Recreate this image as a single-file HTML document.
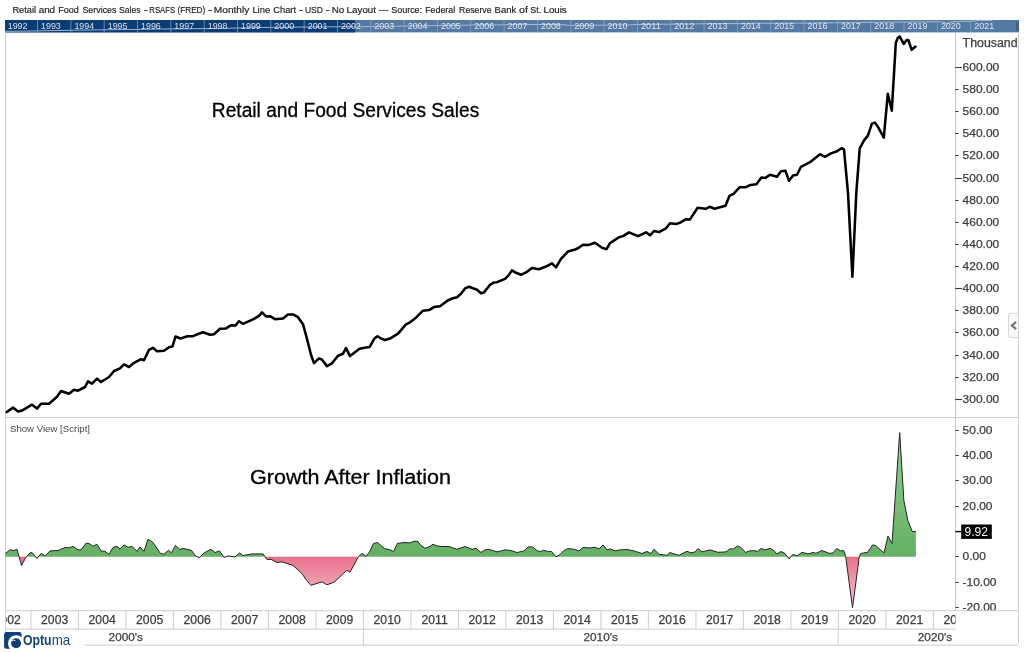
<!DOCTYPE html>
<html lang="en"><head><meta charset="utf-8"><title>Retail and Food Services Sales</title>
<style>html,body{margin:0;padding:0;background:#fff}body{width:1024px;height:652px;overflow:hidden}svg{display:block}text{font-family:"Liberation Sans", "DejaVu Sans", sans-serif}.ax text{stroke:#3c3c3c;stroke-width:0.25px}</style>
</head><body>
<svg width="1024" height="652" viewBox="0 0 1024 652">
<defs>
<linearGradient id="gG" gradientUnits="userSpaceOnUse" x1="0" y1="430" x2="0" y2="556.5"><stop offset="0" stop-color="#94cd94"/><stop offset="1" stop-color="#64b064"/></linearGradient>
<linearGradient id="gR" gradientUnits="userSpaceOnUse" x1="0" y1="556.5" x2="0" y2="608"><stop offset="0" stop-color="#e86f89"/><stop offset="0.62" stop-color="#f2a7b7"/><stop offset="1" stop-color="#f7bcc8"/></linearGradient>
<clipPath id="cUp"><rect x="0" y="418" width="1024" height="138.5"/></clipPath>
<clipPath id="cDn"><rect x="0" y="556.5" width="1024" height="54.2"/></clipPath>
<clipPath id="cAxis"><rect x="6.0" y="600" width="949.5" height="50"/></clipPath>
<clipPath id="cRA"><rect x="950" y="33" width="70" height="577.2"/></clipPath>
<clipPath id="cLogo"><rect x="4.3" y="632.1" width="17.2" height="16.6" rx="2.2"/></clipPath>
</defs>
<rect width="1024" height="652" fill="#fff"/>
<g font-size="9.4" fill="#222" stroke="#222" stroke-width="0.18">
<text x="12.4" y="12.9" textLength="23.6" lengthAdjust="spacingAndGlyphs">Retail</text>
<text x="38.7" y="12.9" textLength="16.4" lengthAdjust="spacingAndGlyphs">and</text>
<text x="58.2" y="12.9" textLength="20.6" lengthAdjust="spacingAndGlyphs">Food</text>
<text x="82.4" y="12.9" textLength="34.1" lengthAdjust="spacingAndGlyphs">Services</text>
<text x="119.1" y="12.9" textLength="21.5" lengthAdjust="spacingAndGlyphs">Sales</text>
<text x="143.5" y="12.9" textLength="4.4" lengthAdjust="spacingAndGlyphs">-</text>
<text x="149.3" y="12.9" textLength="25.8" lengthAdjust="spacingAndGlyphs">RSAFS</text>
<text x="177.6" y="12.9" textLength="27.6" lengthAdjust="spacingAndGlyphs">(FRED)</text>
<text x="208.0" y="12.9" textLength="4.3" lengthAdjust="spacingAndGlyphs">-</text>
<text x="213.8" y="12.9" textLength="35.5" lengthAdjust="spacingAndGlyphs">Monthly</text>
<text x="252.4" y="12.9" textLength="17.7" lengthAdjust="spacingAndGlyphs">Line</text>
<text x="273.2" y="12.9" textLength="22.9" lengthAdjust="spacingAndGlyphs">Chart</text>
<text x="298.7" y="12.9" textLength="4.2" lengthAdjust="spacingAndGlyphs">-</text>
<text x="304.9" y="12.9" textLength="18.0" lengthAdjust="spacingAndGlyphs">USD</text>
<text x="325.5" y="12.9" textLength="4.3" lengthAdjust="spacingAndGlyphs">-</text>
<text x="331.8" y="12.9" textLength="12.5" lengthAdjust="spacingAndGlyphs">No</text>
<text x="346.6" y="12.9" textLength="29.4" lengthAdjust="spacingAndGlyphs">Layout</text>
<text x="378.7" y="12.9" textLength="9.8" lengthAdjust="spacingAndGlyphs">---</text>
<text x="391.2" y="12.9" textLength="30.9" lengthAdjust="spacingAndGlyphs">Source:</text>
<text x="425.2" y="12.9" textLength="30.0" lengthAdjust="spacingAndGlyphs">Federal</text>
<text x="459.1" y="12.9" textLength="32.4" lengthAdjust="spacingAndGlyphs">Reserve</text>
<text x="494.6" y="12.9" textLength="21.6" lengthAdjust="spacingAndGlyphs">Bank</text>
<text x="519.0" y="12.9" textLength="8.9" lengthAdjust="spacingAndGlyphs">of</text>
<text x="530.2" y="12.9" textLength="11.0" lengthAdjust="spacingAndGlyphs">St.</text>
<text x="543.5" y="12.9" textLength="23.2" lengthAdjust="spacingAndGlyphs">Louis</text>
</g>
<g id="nav">
<rect x="5" y="20" width="1014" height="12.4" fill="#547aa3"/>
<rect x="5" y="20" width="350" height="12.4" fill="#0a3c76"/>
<polyline points="4.2,31.3 20.9,31.2 37.5,30.9 54.2,30.6 70.9,30.3 87.5,30.0 104.2,29.8 120.9,29.6 137.5,29.4 154.2,29.1 170.8,28.9 187.5,28.8 204.2,28.6 220.8,28.4 237.5,28.0 254.2,27.7 270.8,27.3 287.5,27.2 304.2,27.0 320.8,26.9 334.2,26.8 353.9,26.7 361.8,26.7 371.6,26.5 377.9,26.5 389.1,26.3 397.6,26.2 403.9,26.1 410.9,25.9 417.2,25.9 425.6,25.8 433.4,25.6 439.7,25.6 448.1,25.4 453.7,25.2 459.3,25.2 467.7,25.2 472.3,24.9 480.7,24.9 486.7,24.9 496.5,24.9 503.5,24.8 511.2,24.7 516.9,24.6 527.4,24.6 533.0,24.4 538.6,24.5 547.7,24.6 554.7,24.5 561.8,24.7 567.4,25.3 573.0,25.4 578.6,25.6 586.3,25.3 591.9,25.2 601.4,25.2 608.4,25.2 614.0,24.9 619.3,25.0 628.4,24.9 636.8,24.6 646.0,24.4 653.7,24.3 663.5,24.2 669.8,24.2 675.4,24.0 683.9,24.0 688.8,24.1 695.8,23.9 703.5,23.8 708.4,23.7 714.7,23.7 722.4,23.6 732.3,23.6 739.3,23.6 747.7,23.3 754.7,23.3 761.7,23.2 771.6,23.3 777.2,23.2 786.3,23.1 796.8,23.1 805.2,23.1 811.6,23.0 819.3,22.9 827.0,22.8 833.3,22.8 844.3,22.6 850.6,22.6 861.0,22.4 868.0,22.3 875.8,22.3 883.4,22.2 889.4,22.1 897.2,22.1 902.8,22.2 908.4,22.1 917.5,21.9 928.0,21.9 936.5,21.8 939.6,21.7 941.4,21.8 944.2,22.4 947.3,23.8 950.0,22.4 952.4,21.7 955.3,21.6 958.1,21.6 960.9,21.4 963.0,21.4 965.1,21.4 969.3,21.6 972.1,21.0 974.9,21.2 977.7,20.4 979.0,20.3 980.5,20.3 983.3,20.4 986.5,20.3 991.5,20.4" fill="none" stroke="#b9c7db" stroke-width="1" stroke-opacity="0.85"/>
<rect x="355.2" y="21.5" width="3" height="9.5" fill="#3f5f8a" opacity="0.55"/>
<text x="7.7" y="29.3" font-size="9.9" fill="#eef2f8" fill-opacity="0.9" textLength="19.8" lengthAdjust="spacingAndGlyphs">1992</text>
<line x1="37.5" y1="20" x2="37.5" y2="32.4" stroke="#8fa6c6" stroke-width="1" stroke-opacity="0.7"/>
<text x="41.0" y="29.3" font-size="9.9" fill="#eef2f8" fill-opacity="0.9" textLength="19.8" lengthAdjust="spacingAndGlyphs">1993</text>
<line x1="70.9" y1="20" x2="70.9" y2="32.4" stroke="#8fa6c6" stroke-width="1" stroke-opacity="0.7"/>
<text x="74.4" y="29.3" font-size="9.9" fill="#eef2f8" fill-opacity="0.9" textLength="19.8" lengthAdjust="spacingAndGlyphs">1994</text>
<line x1="104.2" y1="20" x2="104.2" y2="32.4" stroke="#8fa6c6" stroke-width="1" stroke-opacity="0.7"/>
<text x="107.7" y="29.3" font-size="9.9" fill="#eef2f8" fill-opacity="0.9" textLength="19.8" lengthAdjust="spacingAndGlyphs">1995</text>
<line x1="137.5" y1="20" x2="137.5" y2="32.4" stroke="#8fa6c6" stroke-width="1" stroke-opacity="0.7"/>
<text x="141.0" y="29.3" font-size="9.9" fill="#eef2f8" fill-opacity="0.9" textLength="19.8" lengthAdjust="spacingAndGlyphs">1996</text>
<line x1="170.8" y1="20" x2="170.8" y2="32.4" stroke="#8fa6c6" stroke-width="1" stroke-opacity="0.7"/>
<text x="174.3" y="29.3" font-size="9.9" fill="#eef2f8" fill-opacity="0.9" textLength="19.8" lengthAdjust="spacingAndGlyphs">1997</text>
<line x1="204.2" y1="20" x2="204.2" y2="32.4" stroke="#8fa6c6" stroke-width="1" stroke-opacity="0.7"/>
<text x="207.7" y="29.3" font-size="9.9" fill="#eef2f8" fill-opacity="0.9" textLength="19.8" lengthAdjust="spacingAndGlyphs">1998</text>
<line x1="237.5" y1="20" x2="237.5" y2="32.4" stroke="#8fa6c6" stroke-width="1" stroke-opacity="0.7"/>
<text x="241.0" y="29.3" font-size="9.9" fill="#eef2f8" fill-opacity="0.9" textLength="19.8" lengthAdjust="spacingAndGlyphs">1999</text>
<line x1="270.8" y1="20" x2="270.8" y2="32.4" stroke="#8fa6c6" stroke-width="1" stroke-opacity="0.7"/>
<text x="274.3" y="29.3" font-size="9.9" fill="#eef2f8" fill-opacity="0.9" textLength="19.8" lengthAdjust="spacingAndGlyphs">2000</text>
<line x1="304.2" y1="20" x2="304.2" y2="32.4" stroke="#8fa6c6" stroke-width="1" stroke-opacity="0.7"/>
<text x="307.7" y="29.3" font-size="9.9" fill="#eef2f8" fill-opacity="0.9" textLength="19.8" lengthAdjust="spacingAndGlyphs">2001</text>
<line x1="337.5" y1="20" x2="337.5" y2="32.4" stroke="#8fa6c6" stroke-width="1" stroke-opacity="0.7"/>
<text x="341.0" y="29.3" font-size="9.9" fill="#eef2f8" fill-opacity="0.9" textLength="19.8" lengthAdjust="spacingAndGlyphs">2002</text>
<line x1="370.8" y1="20" x2="370.8" y2="32.4" stroke="#8fa6c6" stroke-width="1" stroke-opacity="0.7"/>
<text x="374.3" y="29.3" font-size="9.9" fill="#eef2f8" fill-opacity="0.9" textLength="19.8" lengthAdjust="spacingAndGlyphs">2003</text>
<line x1="404.2" y1="20" x2="404.2" y2="32.4" stroke="#8fa6c6" stroke-width="1" stroke-opacity="0.7"/>
<text x="407.7" y="29.3" font-size="9.9" fill="#eef2f8" fill-opacity="0.9" textLength="19.8" lengthAdjust="spacingAndGlyphs">2004</text>
<line x1="437.5" y1="20" x2="437.5" y2="32.4" stroke="#8fa6c6" stroke-width="1" stroke-opacity="0.7"/>
<text x="441.0" y="29.3" font-size="9.9" fill="#eef2f8" fill-opacity="0.9" textLength="19.8" lengthAdjust="spacingAndGlyphs">2005</text>
<line x1="470.8" y1="20" x2="470.8" y2="32.4" stroke="#8fa6c6" stroke-width="1" stroke-opacity="0.7"/>
<text x="474.3" y="29.3" font-size="9.9" fill="#eef2f8" fill-opacity="0.9" textLength="19.8" lengthAdjust="spacingAndGlyphs">2006</text>
<line x1="504.1" y1="20" x2="504.1" y2="32.4" stroke="#8fa6c6" stroke-width="1" stroke-opacity="0.7"/>
<text x="507.6" y="29.3" font-size="9.9" fill="#eef2f8" fill-opacity="0.9" textLength="19.8" lengthAdjust="spacingAndGlyphs">2007</text>
<line x1="537.5" y1="20" x2="537.5" y2="32.4" stroke="#8fa6c6" stroke-width="1" stroke-opacity="0.7"/>
<text x="541.0" y="29.3" font-size="9.9" fill="#eef2f8" fill-opacity="0.9" textLength="19.8" lengthAdjust="spacingAndGlyphs">2008</text>
<line x1="570.8" y1="20" x2="570.8" y2="32.4" stroke="#8fa6c6" stroke-width="1" stroke-opacity="0.7"/>
<text x="574.3" y="29.3" font-size="9.9" fill="#eef2f8" fill-opacity="0.9" textLength="19.8" lengthAdjust="spacingAndGlyphs">2009</text>
<line x1="604.1" y1="20" x2="604.1" y2="32.4" stroke="#8fa6c6" stroke-width="1" stroke-opacity="0.7"/>
<text x="607.6" y="29.3" font-size="9.9" fill="#eef2f8" fill-opacity="0.9" textLength="19.8" lengthAdjust="spacingAndGlyphs">2010</text>
<line x1="637.5" y1="20" x2="637.5" y2="32.4" stroke="#8fa6c6" stroke-width="1" stroke-opacity="0.7"/>
<text x="641.0" y="29.3" font-size="9.9" fill="#eef2f8" fill-opacity="0.9" textLength="19.8" lengthAdjust="spacingAndGlyphs">2011</text>
<line x1="670.8" y1="20" x2="670.8" y2="32.4" stroke="#8fa6c6" stroke-width="1" stroke-opacity="0.7"/>
<text x="674.3" y="29.3" font-size="9.9" fill="#eef2f8" fill-opacity="0.9" textLength="19.8" lengthAdjust="spacingAndGlyphs">2012</text>
<line x1="704.1" y1="20" x2="704.1" y2="32.4" stroke="#8fa6c6" stroke-width="1" stroke-opacity="0.7"/>
<text x="707.6" y="29.3" font-size="9.9" fill="#eef2f8" fill-opacity="0.9" textLength="19.8" lengthAdjust="spacingAndGlyphs">2013</text>
<line x1="737.5" y1="20" x2="737.5" y2="32.4" stroke="#8fa6c6" stroke-width="1" stroke-opacity="0.7"/>
<text x="741.0" y="29.3" font-size="9.9" fill="#eef2f8" fill-opacity="0.9" textLength="19.8" lengthAdjust="spacingAndGlyphs">2014</text>
<line x1="770.8" y1="20" x2="770.8" y2="32.4" stroke="#8fa6c6" stroke-width="1" stroke-opacity="0.7"/>
<text x="774.3" y="29.3" font-size="9.9" fill="#eef2f8" fill-opacity="0.9" textLength="19.8" lengthAdjust="spacingAndGlyphs">2015</text>
<line x1="804.1" y1="20" x2="804.1" y2="32.4" stroke="#8fa6c6" stroke-width="1" stroke-opacity="0.7"/>
<text x="807.6" y="29.3" font-size="9.9" fill="#eef2f8" fill-opacity="0.9" textLength="19.8" lengthAdjust="spacingAndGlyphs">2016</text>
<line x1="837.5" y1="20" x2="837.5" y2="32.4" stroke="#8fa6c6" stroke-width="1" stroke-opacity="0.7"/>
<text x="841.0" y="29.3" font-size="9.9" fill="#eef2f8" fill-opacity="0.9" textLength="19.8" lengthAdjust="spacingAndGlyphs">2017</text>
<line x1="870.8" y1="20" x2="870.8" y2="32.4" stroke="#8fa6c6" stroke-width="1" stroke-opacity="0.7"/>
<text x="874.3" y="29.3" font-size="9.9" fill="#eef2f8" fill-opacity="0.9" textLength="19.8" lengthAdjust="spacingAndGlyphs">2018</text>
<line x1="904.1" y1="20" x2="904.1" y2="32.4" stroke="#8fa6c6" stroke-width="1" stroke-opacity="0.7"/>
<text x="907.6" y="29.3" font-size="9.9" fill="#eef2f8" fill-opacity="0.9" textLength="19.8" lengthAdjust="spacingAndGlyphs">2019</text>
<line x1="937.4" y1="20" x2="937.4" y2="32.4" stroke="#8fa6c6" stroke-width="1" stroke-opacity="0.7"/>
<text x="940.9" y="29.3" font-size="9.9" fill="#eef2f8" fill-opacity="0.9" textLength="19.8" lengthAdjust="spacingAndGlyphs">2020</text>
<line x1="970.8" y1="20" x2="970.8" y2="32.4" stroke="#8fa6c6" stroke-width="1" stroke-opacity="0.7"/>
<text x="974.3" y="29.3" font-size="9.9" fill="#eef2f8" fill-opacity="0.9" textLength="19.8" lengthAdjust="spacingAndGlyphs">2021</text>
<rect x="1016" y="21.5" width="3" height="9.5" fill="#3d5a85" opacity="0.8"/>
</g>
<g stroke="#cdcdcd" stroke-width="1" fill="none">
<line x1="5.5" y1="32.3" x2="5.5" y2="632"/>
<line x1="955.5" y1="32.3" x2="955.5" y2="610.7" stroke="#c4c4c4"/>
<path d="M1018.5 32.3 V643.1 Q1018.5 645.1 1016.5 645.1 H85"/>
<line x1="5.5" y1="417.5" x2="1018.5" y2="417.5"/>
<line x1="5.5" y1="610.7" x2="1018.5" y2="610.7"/>
<line x1="5.5" y1="629.1" x2="955.5" y2="629.1"/>
<line x1="30.90" y1="610.7" x2="30.90" y2="629.1"/>
<line x1="78.40" y1="610.7" x2="78.40" y2="629.1"/>
<line x1="125.90" y1="610.7" x2="125.90" y2="629.1"/>
<line x1="173.40" y1="610.7" x2="173.40" y2="629.1"/>
<line x1="220.90" y1="610.7" x2="220.90" y2="629.1"/>
<line x1="268.40" y1="610.7" x2="268.40" y2="629.1"/>
<line x1="315.90" y1="610.7" x2="315.90" y2="629.1"/>
<line x1="363.40" y1="610.7" x2="363.40" y2="629.1"/>
<line x1="410.90" y1="610.7" x2="410.90" y2="629.1"/>
<line x1="458.40" y1="610.7" x2="458.40" y2="629.1"/>
<line x1="505.90" y1="610.7" x2="505.90" y2="629.1"/>
<line x1="553.40" y1="610.7" x2="553.40" y2="629.1"/>
<line x1="600.90" y1="610.7" x2="600.90" y2="629.1"/>
<line x1="648.40" y1="610.7" x2="648.40" y2="629.1"/>
<line x1="695.90" y1="610.7" x2="695.90" y2="629.1"/>
<line x1="743.40" y1="610.7" x2="743.40" y2="629.1"/>
<line x1="790.90" y1="610.7" x2="790.90" y2="629.1"/>
<line x1="838.40" y1="610.7" x2="838.40" y2="629.1"/>
<line x1="885.90" y1="610.7" x2="885.90" y2="629.1"/>
<line x1="933.40" y1="610.7" x2="933.40" y2="629.1"/>
<line x1="363.4" y1="629.1" x2="363.4" y2="645.1"/>
<line x1="838.1" y1="629.1" x2="838.1" y2="645.1"/>
</g>
<polyline points="6.8,412 13,407.6 18,411.6 22,410.6 32,404.7 37,408.6 41,403.7 49,403.7 57,396.7 61,391 69,393.7 74,389.7 78,390.7 85,387 88,381.3 92,383.7 97,378.7 101,382 109,377 114,371 120,368.4 124,364.4 129,367 134,362.8 141,359.2 144,360.2 149,349.8 153,347.8 157,351.2 164,350.8 169,347.2 172.5,346.4 175.5,336.5 180.5,338.5 187.5,336.3 192.5,336.3 196,334.8 203,332.2 210,334.8 214,334.2 220,328.8 226,328.4 231,325.2 235.5,325.4 239,321.2 243,323.8 254,318.8 259,315.8 262,312.4 266,316.4 270,316.2 275,319.2 283,318.4 288,314.4 293,314.4 298,317.2 303,324.2 307,338.8 311,354.7 314,363.1 319,358.3 322,359.7 327,366.1 332,363.3 338,355.7 343,353.7 346,348.1 350,356.1 359.5,348.7 364.5,347.7 369.5,347.1 374.5,338.4 377.5,336.2 381.5,338.8 385,340 390,338.6 398,333.7 406,324.3 410,322.3 416,317.7 423,310.7 429,310.1 434,307.1 440,306.3 448,300.2 453,298.2 457,297.2 461,293.8 465,288.4 469,286.8 477,289.8 481,293.2 484,292.4 490,284.8 494,282.4 497,282.2 505,278.8 509,274.8 512,270.4 516,272.8 521,274.8 527,271.8 532,267.9 539,269.3 546,266.5 552,263.3 556,267.3 561,258.9 568,251.5 575,249.5 578,248.3 583,244.7 588,245.1 595,242.7 602,247.7 606.5,249.1 610,243.1 619,237.3 623,236.1 629,232.3 638,236.1 646,232.3 650,235.3 654,231.1 659,232.1 666,228.3 670,223.3 676,224.1 681,222.2 686,219.2 690,219.4 697.6,207.8 705.6,208.8 709.6,206.8 714.6,208.8 725.5,205.8 729.5,195.8 733.5,193.8 739.5,187.3 745.5,187.3 750.5,184.9 756.4,184.3 761.4,177.5 765.4,177.9 770,174.8 777,176.8 781,171.2 785.5,170.8 789,180.8 793,175.4 797,174.8 801,166.8 810,162.2 820,154.2 825,156.8 831,153.4 837,151.2 841.5,148.2 844,149.5 848,192.9 852.4,276.8 856.3,192.9 859.7,148.5 863.9,140.6 867.9,135.6 871.9,123.6 874.8,122.6 877.8,126.6 883.8,137.6 887.8,93.7 891.8,110.7 895.8,42.9 897.7,38 899.7,36.6 903.7,43.9 906.7,40 908.3,40 911.7,49.9 915.5,46.5" fill="none" stroke="#000" stroke-width="2.55" stroke-linejoin="round" stroke-linecap="round"/>
<polygon points="5.5,553.5 6.0,552.9 10.0,549.9 14.0,550.5 17.0,549.3 19.1,556.8 21.5,556.8 26.0,556.8 26.1,556.8 30.0,552.9 32.0,552.5 35.6,556.8 37.0,556.8 38.4,556.8 41.0,553.5 45.0,555.9 50.0,550.9 58.0,550.5 65.0,547.5 69.0,547.9 73.0,546.3 78.0,549.9 81.0,549.9 86.0,543.3 89.0,543.5 93.0,546.3 97.0,544.3 101.0,550.9 105.0,551.3 109.0,554.3 113.0,547.5 117.0,546.3 120.0,548.9 124.0,544.9 128.0,547.3 132.0,546.3 137.0,551.3 140.0,546.9 144.0,551.3 148.0,539.3 152.5,541.9 160.5,553.5 164.0,554.3 168.5,550.3 171.5,552.9 175.5,545.3 179.5,549.3 183.5,548.5 191.4,550.3 196.0,556.5 197.1,556.8 199.6,556.8 200.3,556.8 204.0,552.9 211.0,549.3 215.0,552.5 219.5,550.9 223.5,556.8 224.0,556.8 225.8,556.8 228.0,555.9 234.3,556.8 235.0,556.8 235.1,556.8 239.5,552.9 243.0,555.5 252.0,553.9 263.0,553.9 265.1,556.8 267.0,556.8 271.0,556.8 277.0,556.8 282.0,556.8 288.0,556.8 292.0,556.8 297.0,556.8 302.0,556.8 307.0,556.8 311.0,556.8 317.0,556.8 322.0,556.8 327.0,556.8 334.0,556.8 339.0,556.8 344.0,556.8 347.0,556.8 350.0,556.8 354.0,556.8 358.3,556.8 358.5,556.5 362.0,553.5 366.0,556.3 369.5,551.9 373.5,543.5 377.5,542.5 384.5,548.5 390.0,549.9 393.6,551.5 397.5,543.3 405.0,542.5 410.0,542.9 414.0,541.3 417.5,541.3 421.0,545.5 425.0,548.3 429.0,546.9 433.0,544.3 437.0,545.9 442.0,546.5 449.0,546.5 457.0,549.3 465.0,546.5 472.0,549.3 476.0,548.3 481.0,552.5 485.0,549.9 489.0,549.3 497.0,551.9 505.0,549.9 510.0,550.3 517.0,552.5 524.0,550.9 528.0,546.9 532.5,546.9 537.5,550.9 540.5,551.5 543.5,550.3 547.5,551.3 551.5,551.5 555.9,556.8 556.0,556.8 556.2,556.8 559.5,554.9 563.5,550.9 567.5,548.5 574.4,549.3 579.0,550.9 583.0,547.5 590.0,547.9 595.0,547.3 599.0,548.9 603.0,544.9 607.0,549.9 610.0,548.9 615.0,550.9 620.0,549.9 627.0,549.5 634.0,550.9 642.0,553.5 647.0,551.5 651.0,553.5 654.0,549.3 659.0,554.3 667.0,555.3 670.0,552.5 674.0,553.9 679.0,555.3 687.0,551.3 691.0,552.9 695.0,551.9 698.0,548.5 702.0,551.9 710.0,549.9 718.0,552.3 726.0,551.9 730.0,548.9 733.5,548.9 737.5,545.9 741.5,547.9 745.5,552.5 749.5,550.9 753.5,550.5 757.5,551.5 761.0,548.5 765.0,549.9 770.0,548.3 773.0,549.9 777.0,553.9 781.0,551.5 785.0,553.5 787.4,556.8 789.0,556.8 790.8,556.8 793.0,554.3 797.0,555.9 802.0,552.3 808.0,553.9 813.0,552.5 816.0,553.3 822.0,550.5 829.0,553.3 833.0,552.9 836.7,548.5 840.7,550.9 843.7,550.5 845.7,556.5 845.7,556.8 852.5,556.8 859.3,556.8 859.3,556.5 860.7,553.5 867.6,552.3 872.6,544.9 875.6,545.5 884.0,552.9 888.0,536.0 892.0,543.5 899.7,432.6 903.9,500.8 907.8,520.2 912.3,531.6 915.9,531.6 915.9,556.8 5.5,556.8" fill="url(#gG)"/>
<polygon points="5.5,556.8 6.0,556.8 10.0,556.8 14.0,556.8 17.0,556.8 19.1,556.8 21.5,565.5 26.0,556.9 26.1,556.8 30.0,556.8 32.0,556.8 35.6,556.8 37.0,558.5 38.4,556.8 41.0,556.8 45.0,556.8 50.0,556.8 58.0,556.8 65.0,556.8 69.0,556.8 73.0,556.8 78.0,556.8 81.0,556.8 86.0,556.8 89.0,556.8 93.0,556.8 97.0,556.8 101.0,556.8 105.0,556.8 109.0,556.8 113.0,556.8 117.0,556.8 120.0,556.8 124.0,556.8 128.0,556.8 132.0,556.8 137.0,556.8 140.0,556.8 144.0,556.8 148.0,556.8 152.5,556.8 160.5,556.8 164.0,556.8 168.5,556.8 171.5,556.8 175.5,556.8 179.5,556.8 183.5,556.8 191.4,556.8 196.0,556.8 197.1,556.8 199.6,557.5 200.3,556.8 204.0,556.8 211.0,556.8 215.0,556.8 219.5,556.8 223.5,556.8 224.0,557.5 225.8,556.8 228.0,556.8 234.3,556.8 235.0,556.9 235.1,556.8 239.5,556.8 243.0,556.8 252.0,556.8 263.0,556.8 265.1,556.8 267.0,559.5 271.0,559.3 277.0,562.5 282.0,561.9 288.0,563.9 292.0,564.9 297.0,568.9 302.0,573.8 307.0,580.8 311.0,585.4 317.0,583.4 322.0,581.8 327.0,584.8 334.0,582.2 339.0,577.8 344.0,572.8 347.0,570.4 350.0,572.2 354.0,564.9 358.3,556.8 358.5,556.8 362.0,556.8 366.0,556.8 369.5,556.8 373.5,556.8 377.5,556.8 384.5,556.8 390.0,556.8 393.6,556.8 397.5,556.8 405.0,556.8 410.0,556.8 414.0,556.8 417.5,556.8 421.0,556.8 425.0,556.8 429.0,556.8 433.0,556.8 437.0,556.8 442.0,556.8 449.0,556.8 457.0,556.8 465.0,556.8 472.0,556.8 476.0,556.8 481.0,556.8 485.0,556.8 489.0,556.8 497.0,556.8 505.0,556.8 510.0,556.8 517.0,556.8 524.0,556.8 528.0,556.8 532.5,556.8 537.5,556.8 540.5,556.8 543.5,556.8 547.5,556.8 551.5,556.8 555.9,556.8 556.0,556.9 556.2,556.8 559.5,556.8 563.5,556.8 567.5,556.8 574.4,556.8 579.0,556.8 583.0,556.8 590.0,556.8 595.0,556.8 599.0,556.8 603.0,556.8 607.0,556.8 610.0,556.8 615.0,556.8 620.0,556.8 627.0,556.8 634.0,556.8 642.0,556.8 647.0,556.8 651.0,556.8 654.0,556.8 659.0,556.8 667.0,556.8 670.0,556.8 674.0,556.8 679.0,556.8 687.0,556.8 691.0,556.8 695.0,556.8 698.0,556.8 702.0,556.8 710.0,556.8 718.0,556.8 726.0,556.8 730.0,556.8 733.5,556.8 737.5,556.8 741.5,556.8 745.5,556.8 749.5,556.8 753.5,556.8 757.5,556.8 761.0,556.8 765.0,556.8 770.0,556.8 773.0,556.8 777.0,556.8 781.0,556.8 785.0,556.8 787.4,556.8 789.0,558.9 790.8,556.8 793.0,556.8 797.0,556.8 802.0,556.8 808.0,556.8 813.0,556.8 816.0,556.8 822.0,556.8 829.0,556.8 833.0,556.8 836.7,556.8 840.7,556.8 843.7,556.8 845.7,556.8 845.7,556.8 852.5,607.7 859.3,556.8 859.3,556.8 860.7,556.8 867.6,556.8 872.6,556.8 875.6,556.8 884.0,556.8 888.0,556.8 892.0,556.8 899.7,556.8 903.9,556.8 907.8,556.8 912.3,556.8 915.9,556.8 915.9,556.8 5.5,556.8" fill="url(#gR)"/>
<polyline points="5.5,553.5 6,552.9 10,549.9 14,550.5 17,549.3 21.5,565.5 26,556.9 30,552.9 32,552.5 37,558.5 41,553.5 45,555.9 50,550.9 58,550.5 65,547.5 69,547.9 73,546.3 78,549.9 81,549.9 86,543.3 89,543.5 93,546.3 97,544.3 101,550.9 105,551.3 109,554.3 113,547.5 117,546.3 120,548.9 124,544.9 128,547.3 132,546.3 137,551.3 140,546.9 144,551.3 148,539.3 152.5,541.9 160.5,553.5 164,554.3 168.5,550.3 171.5,552.9 175.5,545.3 179.5,549.3 183.5,548.5 191.4,550.3 196,556.5 199.6,557.5 204,552.9 211,549.3 215,552.5 219.5,550.9 224,557.5 228,555.9 235,556.9 239.5,552.9 243,555.5 252,553.9 263,553.9 267,559.5 271,559.3 277,562.5 282,561.9 288,563.9 292,564.9 297,568.9 302,573.8 307,580.8 311,585.4 317,583.4 322,581.8 327,584.8 334,582.2 339,577.8 344,572.8 347,570.4 350,572.2 354,564.9 358.5,556.5 362,553.5 366,556.3 369.5,551.9 373.5,543.5 377.5,542.5 384.5,548.5 390,549.9 393.6,551.5 397.5,543.3 405,542.5 410,542.9 414,541.3 417.5,541.3 421,545.5 425,548.3 429,546.9 433,544.3 437,545.9 442,546.5 449,546.5 457,549.3 465,546.5 472,549.3 476,548.3 481,552.5 485,549.9 489,549.3 497,551.9 505,549.9 510,550.3 517,552.5 524,550.9 528,546.9 532.5,546.9 537.5,550.9 540.5,551.5 543.5,550.3 547.5,551.3 551.5,551.5 556,556.9 559.5,554.9 563.5,550.9 567.5,548.5 574.4,549.3 579,550.9 583,547.5 590,547.9 595,547.3 599,548.9 603,544.9 607,549.9 610,548.9 615,550.9 620,549.9 627,549.5 634,550.9 642,553.5 647,551.5 651,553.5 654,549.3 659,554.3 667,555.3 670,552.5 674,553.9 679,555.3 687,551.3 691,552.9 695,551.9 698,548.5 702,551.9 710,549.9 718,552.3 726,551.9 730,548.9 733.5,548.9 737.5,545.9 741.5,547.9 745.5,552.5 749.5,550.9 753.5,550.5 757.5,551.5 761,548.5 765,549.9 770,548.3 773,549.9 777,553.9 781,551.5 785,553.5 789,558.9 793,554.3 797,555.9 802,552.3 808,553.9 813,552.5 816,553.3 822,550.5 829,553.3 833,552.9 836.7,548.5 840.7,550.9 843.7,550.5 845.7,556.5 852.5,607.7 859.3,556.5 860.7,553.5 867.6,552.3 872.6,544.9 875.6,545.5 884,552.9 888,536 892,543.5 899.7,432.6 903.9,500.8 907.8,520.2 912.3,531.6 915.9,531.6" fill="none" stroke="#242424" stroke-width="1" stroke-linejoin="round"/>
<text x="211.8" y="116.7" font-size="20" fill="#000" stroke="#000" stroke-width="0.3" textLength="267.5" lengthAdjust="spacingAndGlyphs">Retail and Food Services Sales</text>
<text x="250" y="483.6" font-size="20" fill="#000" stroke="#000" stroke-width="0.3" textLength="201" lengthAdjust="spacingAndGlyphs">Growth After Inflation</text>
<text x="10" y="431.6" font-size="9.8" fill="#4a4a4a" textLength="80" lengthAdjust="spacingAndGlyphs">Show View [Script]</text>
<g class="ax" clip-path="url(#cRA)">
<text x="962.6" y="46.7" font-size="12" fill="#3c3c3c" textLength="55" lengthAdjust="spacingAndGlyphs">Thousand</text>
<line x1="955.2" y1="67.5" x2="962.0" y2="67.5" stroke="#3a3a3a" stroke-width="1.1"/>
<text x="962.6" y="71.1" font-size="11.6" fill="#3c3c3c" textLength="36.6" lengthAdjust="spacingAndGlyphs">600.00</text>
<line x1="955.2" y1="89.5" x2="958.6" y2="89.5" stroke="#3a3a3a" stroke-width="1.1"/>
<text x="962.6" y="93.1" font-size="11.6" fill="#3c3c3c" textLength="36.6" lengthAdjust="spacingAndGlyphs">580.00</text>
<line x1="955.2" y1="111.5" x2="958.6" y2="111.5" stroke="#3a3a3a" stroke-width="1.1"/>
<text x="962.6" y="115.1" font-size="11.6" fill="#3c3c3c" textLength="36.6" lengthAdjust="spacingAndGlyphs">560.00</text>
<line x1="955.2" y1="133.5" x2="958.6" y2="133.5" stroke="#3a3a3a" stroke-width="1.1"/>
<text x="962.6" y="137.1" font-size="11.6" fill="#3c3c3c" textLength="36.6" lengthAdjust="spacingAndGlyphs">540.00</text>
<line x1="955.2" y1="155.5" x2="958.6" y2="155.5" stroke="#3a3a3a" stroke-width="1.1"/>
<text x="962.6" y="159.1" font-size="11.6" fill="#3c3c3c" textLength="36.6" lengthAdjust="spacingAndGlyphs">520.00</text>
<line x1="955.2" y1="178.5" x2="962.0" y2="178.5" stroke="#3a3a3a" stroke-width="1.1"/>
<text x="962.6" y="182.1" font-size="11.6" fill="#3c3c3c" textLength="36.6" lengthAdjust="spacingAndGlyphs">500.00</text>
<line x1="955.2" y1="200.5" x2="958.6" y2="200.5" stroke="#3a3a3a" stroke-width="1.1"/>
<text x="962.6" y="204.1" font-size="11.6" fill="#3c3c3c" textLength="36.6" lengthAdjust="spacingAndGlyphs">480.00</text>
<line x1="955.2" y1="222.5" x2="958.6" y2="222.5" stroke="#3a3a3a" stroke-width="1.1"/>
<text x="962.6" y="226.1" font-size="11.6" fill="#3c3c3c" textLength="36.6" lengthAdjust="spacingAndGlyphs">460.00</text>
<line x1="955.2" y1="244.5" x2="958.6" y2="244.5" stroke="#3a3a3a" stroke-width="1.1"/>
<text x="962.6" y="248.1" font-size="11.6" fill="#3c3c3c" textLength="36.6" lengthAdjust="spacingAndGlyphs">440.00</text>
<line x1="955.2" y1="266.5" x2="958.6" y2="266.5" stroke="#3a3a3a" stroke-width="1.1"/>
<text x="962.6" y="270.1" font-size="11.6" fill="#3c3c3c" textLength="36.6" lengthAdjust="spacingAndGlyphs">420.00</text>
<line x1="955.2" y1="288.5" x2="962.0" y2="288.5" stroke="#3a3a3a" stroke-width="1.1"/>
<text x="962.6" y="292.1" font-size="11.6" fill="#3c3c3c" textLength="36.6" lengthAdjust="spacingAndGlyphs">400.00</text>
<line x1="955.2" y1="310.5" x2="958.6" y2="310.5" stroke="#3a3a3a" stroke-width="1.1"/>
<text x="962.6" y="314.1" font-size="11.6" fill="#3c3c3c" textLength="36.6" lengthAdjust="spacingAndGlyphs">380.00</text>
<line x1="955.2" y1="332.5" x2="958.6" y2="332.5" stroke="#3a3a3a" stroke-width="1.1"/>
<text x="962.6" y="336.1" font-size="11.6" fill="#3c3c3c" textLength="36.6" lengthAdjust="spacingAndGlyphs">360.00</text>
<line x1="955.2" y1="355.5" x2="958.6" y2="355.5" stroke="#3a3a3a" stroke-width="1.1"/>
<text x="962.6" y="359.1" font-size="11.6" fill="#3c3c3c" textLength="36.6" lengthAdjust="spacingAndGlyphs">340.00</text>
<line x1="955.2" y1="377.5" x2="958.6" y2="377.5" stroke="#3a3a3a" stroke-width="1.1"/>
<text x="962.6" y="381.1" font-size="11.6" fill="#3c3c3c" textLength="36.6" lengthAdjust="spacingAndGlyphs">320.00</text>
<line x1="955.2" y1="399.5" x2="962.0" y2="399.5" stroke="#3a3a3a" stroke-width="1.1"/>
<text x="962.6" y="403.1" font-size="11.6" fill="#3c3c3c" textLength="36.6" lengthAdjust="spacingAndGlyphs">300.00</text>
<line x1="955.5" y1="430.5" x2="958.7" y2="430.5" stroke="#333" stroke-width="1"/>
<text x="962.6" y="434.1" font-size="11.6" fill="#3c3c3c" textLength="29.9" lengthAdjust="spacingAndGlyphs">50.00</text>
<line x1="955.5" y1="455.5" x2="958.7" y2="455.5" stroke="#333" stroke-width="1"/>
<text x="962.6" y="459.1" font-size="11.6" fill="#3c3c3c" textLength="29.9" lengthAdjust="spacingAndGlyphs">40.00</text>
<line x1="955.5" y1="480.5" x2="958.7" y2="480.5" stroke="#333" stroke-width="1"/>
<text x="962.6" y="484.1" font-size="11.6" fill="#3c3c3c" textLength="29.9" lengthAdjust="spacingAndGlyphs">30.00</text>
<line x1="955.5" y1="506.5" x2="958.7" y2="506.5" stroke="#333" stroke-width="1"/>
<text x="962.6" y="510.1" font-size="11.6" fill="#3c3c3c" textLength="29.9" lengthAdjust="spacingAndGlyphs">20.00</text>
<line x1="955.5" y1="556.5" x2="958.7" y2="556.5" stroke="#333" stroke-width="1"/>
<text x="962.6" y="560.1" font-size="11.6" fill="#3c3c3c" textLength="23.3" lengthAdjust="spacingAndGlyphs">0.00</text>
<line x1="955.5" y1="582.5" x2="958.7" y2="582.5" stroke="#333" stroke-width="1"/>
<text x="962.6" y="586.1" font-size="11.6" fill="#3c3c3c" textLength="33.9" lengthAdjust="spacingAndGlyphs">-10.00</text>
<line x1="955.5" y1="607.5" x2="958.7" y2="607.5" stroke="#333" stroke-width="1"/>
<text x="962.6" y="611.1" font-size="11.6" fill="#3c3c3c" textLength="33.9" lengthAdjust="spacingAndGlyphs">-20.00</text>
</g>
<line x1="955.5" y1="531.6" x2="961.5" y2="531.6" stroke="#000" stroke-width="1.4"/>
<rect x="961.2" y="524.5" width="30.6" height="14.4" fill="#000"/>
<text x="964.6" y="536.4" font-size="12" fill="#fff">9.92</text>
<path d="M1018.5 313.3 H1010.2 Q1008.6 313.3 1008.6 314.9 V335.9 Q1008.6 337.5 1010.2 337.5 H1018.5" fill="#f8f8f8" stroke="#d6d6d6" stroke-width="1"/>
<polyline points="1016.1,321.8 1011.9,325.5 1016.1,329.2" fill="none" stroke="#747474" stroke-width="2.2" stroke-linejoin="miter"/>
<line x1="1018.5" y1="312" x2="1018.5" y2="339" stroke="#cdcdcd" stroke-width="1"/>
<g class="ax" clip-path="url(#cAxis)" font-size="12.2" fill="#3c3c3c" text-anchor="middle">
<text x="7.15" y="623.9">2002</text>
<text x="54.65" y="623.9">2003</text>
<text x="102.15" y="623.9">2004</text>
<text x="149.65" y="623.9">2005</text>
<text x="197.15" y="623.9">2006</text>
<text x="244.65" y="623.9">2007</text>
<text x="292.15" y="623.9">2008</text>
<text x="339.65" y="623.9">2009</text>
<text x="387.15" y="623.9">2010</text>
<text x="434.65" y="623.9">2011</text>
<text x="482.15" y="623.9">2012</text>
<text x="529.65" y="623.9">2013</text>
<text x="577.15" y="623.9">2014</text>
<text x="624.65" y="623.9">2015</text>
<text x="672.15" y="623.9">2016</text>
<text x="719.65" y="623.9">2017</text>
<text x="767.15" y="623.9">2018</text>
<text x="814.65" y="623.9">2019</text>
<text x="862.15" y="623.9">2020</text>
<text x="909.65" y="623.9">2021</text>
<text x="957.15" y="623.9">2022</text>
<text x="125.8" y="641" font-size="11.8">2000's</text>
<text x="600.7" y="641" font-size="11.8">2010's</text>
<text x="952.2" y="641" font-size="11.8" text-anchor="end">2020's</text>
</g>
<g id="logo">
<rect x="4.1" y="632" width="17.5" height="16.8" rx="2.4" fill="#0c3f78"/>
<circle cx="16.2" cy="643.4" r="8.2" fill="#fff"/>
<circle cx="16.1" cy="643.25" r="4.95" fill="#0c3f78"/>
<path d="M12.1 640.7 Q13.6 639.5 15 640.5" fill="none" stroke="#fff" stroke-width="0.9" stroke-linecap="round"/>
<text x="22.9" y="645.2" font-size="14.2" font-weight="bold" fill="#15447a" textLength="28.6" lengthAdjust="spacingAndGlyphs">Optu</text>
<text x="51.7" y="645.2" font-size="14.2" fill="#15447a" textLength="18.6" lengthAdjust="spacingAndGlyphs">ma</text>
</g>
</svg>
</body></html>
